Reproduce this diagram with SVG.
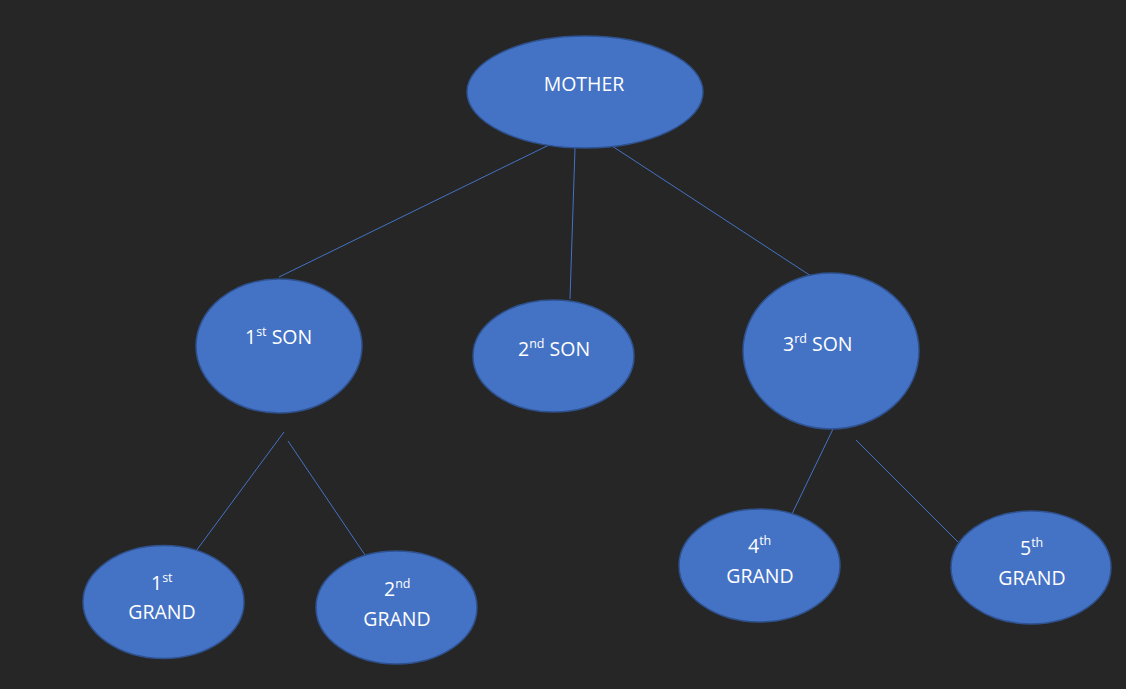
<svg xmlns="http://www.w3.org/2000/svg" width="1126" height="689" viewBox="0 0 1126 689">
<style>
.n{fill:#4472C4;stroke:#2F528F;stroke-width:1.5}
.t{fill:#FFFFFF;font-family:"Open Sans","Liberation Sans",sans-serif;font-size:19.5px}
.s{font-size:12.5px}
.c line{stroke:#4472C4;stroke-width:1}
</style>
<rect width="1126" height="689" fill="#262626"/>
<g class="c" id="connectors">
<line x1="549" y1="145" x2="279" y2="277"/>
<line x1="575" y1="148" x2="570" y2="299"/>
<line x1="612" y1="146" x2="811" y2="276"/>
<line x1="284" y1="432" x2="196" y2="551"/>
<line x1="288" y1="441" x2="365" y2="555"/>
<line x1="833" y1="429" x2="792" y2="514"/>
<line x1="856" y1="440" x2="958" y2="542"/>
</g>
<g id="mother"><ellipse class="n" cx="585" cy="92" rx="118" ry="56"/><text class="t" x="584" y="91" text-anchor="middle">MOTHER</text></g>
<g id="son1"><ellipse class="n" cx="279" cy="346" rx="83" ry="67"/><text class="t" x="245" y="344">1<tspan class="s" dy="-8">st</tspan><tspan dy="8"> SON</tspan></text></g>
<g id="son2"><ellipse class="n" cx="553.5" cy="356" rx="80.5" ry="56"/><text class="t" x="518" y="356">2<tspan class="s" dy="-8">nd</tspan><tspan dy="8"> SON</tspan></text></g>
<g id="son3"><ellipse class="n" cx="831" cy="351" rx="88" ry="78"/><text class="t" x="783" y="351">3<tspan class="s" dy="-8">rd</tspan><tspan dy="8"> SON</tspan></text></g>
<g id="grand1"><ellipse class="n" cx="163.5" cy="602" rx="80.5" ry="56.5"/><text class="t" x="151" y="590">1<tspan class="s" dy="-8">st</tspan></text><text class="t" x="162" y="619" text-anchor="middle">GRAND</text></g>
<g id="grand2"><ellipse class="n" cx="396.5" cy="607.5" rx="80.5" ry="56.5"/><text class="t" x="384" y="596">2<tspan class="s" dy="-8">nd</tspan></text><text class="t" x="397" y="626" text-anchor="middle">GRAND</text></g>
<g id="grand4"><ellipse class="n" cx="759.5" cy="565.5" rx="80.5" ry="56.5"/><text class="t" x="748" y="553">4<tspan class="s" dy="-8">th</tspan></text><text class="t" x="760" y="583" text-anchor="middle">GRAND</text></g>
<g id="grand5"><ellipse class="n" cx="1031" cy="567.5" rx="80" ry="56.5"/><text class="t" x="1020" y="555">5<tspan class="s" dy="-8">th</tspan></text><text class="t" x="1032" y="585" text-anchor="middle">GRAND</text></g>
</svg>
